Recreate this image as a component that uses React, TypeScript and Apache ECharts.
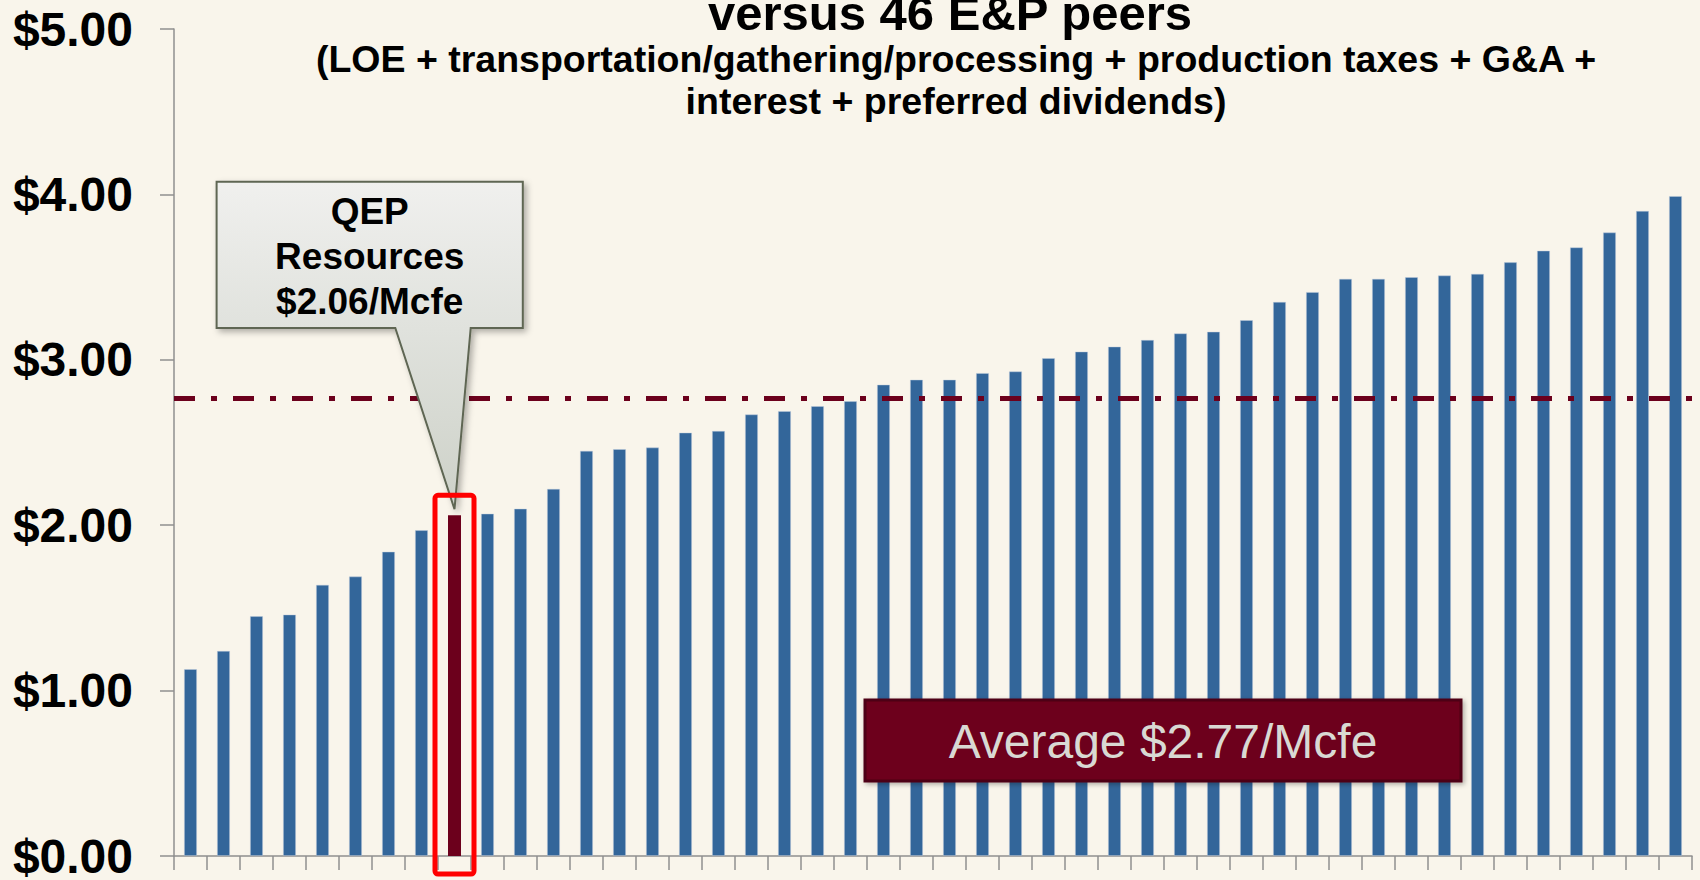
import React, { useEffect, useRef } from "react";
import * as echarts from "echarts";

const TITLE = "versus 46 E&P peers";
const SUBTITLE_LINES = [
  "(LOE + transportation/gathering/processing + production taxes + G&A +",
  "interest + preferred dividends)",
];

const COMPANIES = [
  "Peer 1", "Peer 2", "Peer 3", "Peer 4", "Peer 5", "Peer 6", "Peer 7", "Peer 8",
  "QEP Resources",
  "Peer 9", "Peer 10", "Peer 11", "Peer 12", "Peer 13", "Peer 14", "Peer 15", "Peer 16",
  "Peer 17", "Peer 18", "Peer 19", "Peer 20", "Peer 21", "Peer 22", "Peer 23", "Peer 24",
  "Peer 25", "Peer 26", "Peer 27", "Peer 28", "Peer 29", "Peer 30", "Peer 31", "Peer 32",
  "Peer 33", "Peer 34", "Peer 35", "Peer 36", "Peer 37", "Peer 38", "Peer 39", "Peer 40",
  "Peer 41", "Peer 42", "Peer 43", "Peer 44", "Peer 45",
];

const VALUES = [
  1.13, 1.24, 1.45, 1.46, 1.64, 1.69, 1.84, 1.97, 2.06, 2.07,
  2.10, 2.22, 2.45, 2.46, 2.47, 2.56, 2.57, 2.67, 2.69, 2.72,
  2.75, 2.85, 2.88, 2.88, 2.92, 2.93, 3.01, 3.05, 3.08, 3.12,
  3.16, 3.17, 3.24, 3.35, 3.41, 3.49, 3.49, 3.50, 3.51, 3.52,
  3.59, 3.66, 3.68, 3.77, 3.90, 3.99,
];

const HIGHLIGHT = "QEP Resources";
const AVERAGE = 2.77;
const UNIT = "/Mcfe";
const Y_MIN = 0;
const Y_MAX = 5;
const Y_INTERVAL = 1;

const FONT = '"Liberation Sans", Arial, Helvetica, sans-serif';
const BG = "#F9F5EB";
const BAR = "#33669A";
const MAROON = "#6C001C";
const AXIS = "#8F8F8F";

const money = (v: number) => "$" + v.toFixed(2);

export default function App() {
  const ref = useRef<HTMLDivElement>(null);

  useEffect(() => {
    if (!ref.current) return;
    const chart = echarts.init(ref.current, undefined, { renderer: "svg" });
    const hiIdx = COMPANIES.indexOf(HIGHLIGHT);

    const option: any = {
      animation: false,
      backgroundColor: BG,
      grid: { left: 174, right: 8, top: 29, bottom: 23, containLabel: false },
      xAxis: {
        type: "category",
        data: COMPANIES,
        boundaryGap: true,
        axisLine: { show: true, lineStyle: { color: AXIS, width: 1.5 } },
        axisTick: { show: true, interval: 0, length: 14, lineStyle: { color: AXIS, width: 1.5 } },
        axisLabel: { show: false, interval: 0 },
        splitLine: { show: false },
      },
      yAxis: {
        type: "value",
        min: Y_MIN,
        max: Y_MAX,
        interval: Y_INTERVAL,
        axisLine: { show: true, lineStyle: { color: AXIS, width: 1.5 } },
        axisTick: { show: true, length: 14, lineStyle: { color: AXIS, width: 1.5 } },
        splitLine: { show: false },
        axisLabel: {
          formatter: (v: number) => money(v),
          fontSize: 48,
          fontWeight: "bold",
          fontFamily: FONT,
          color: "#000",
          margin: 41,
        },
      },
      series: [
        {
          type: "bar",
          barWidth: 13,
          silent: true,
          data: VALUES.map((v, i) => ({
            value: v,
            itemStyle:
              i === hiIdx
                ? { color: MAROON }
                : { color: BAR, borderColor: "rgba(190,205,222,0.55)", borderWidth: 0.8 },
          })),
          markLine: {
            silent: true,
            symbol: ["none", "none"],
            label: { show: false },
            emphasis: { disabled: true },
            lineStyle: {
              color: MAROON,
              width: 5,
              type: [21, 16, 6, 16],
              cap: "butt",
            },
            data: [{ yAxis: AVERAGE }],
          },
        },
      ],
    };
    chart.setOption(option);

    const top = chart.convertToPixel({ gridIndex: 0 }, [hiIdx, VALUES[hiIdx]]) as number[];
    const base = chart.convertToPixel({ gridIndex: 0 }, [hiIdx, 0]) as number[];

    const titleFont = `bold 49px ${FONT}`;
    const subFont = `bold 37.5px ${FONT}`;
    const calloutFont = `bold 37px ${FONT}`;
    const avgFont = `48px ${FONT}`;

    const txt = (text: string, x: number, y: number, font: string, fill = "#000") => ({
      type: "text",
      z: 100,
      silent: true,
      style: {
        text,
        x,
        y,
        font,
        fill,
        align: "center",
        verticalAlign: "middle",
        textAlign: "center",
        textVerticalAlign: "middle",
      },
    });

    const boxL = 216.6, boxR = 522.8, boxT = 181.7, boxB = 328;
    const cx = (boxL + boxR) / 2;
    const calloutLines = [...HIGHLIGHT.split(" "), money(VALUES[hiIdx]) + UNIT];

    chart.setOption({
      graphic: [
        txt(TITLE, 950, 13, titleFont),
        txt(SUBTITLE_LINES[0], 956, 58.5, subFont),
        txt(SUBTITLE_LINES[1], 956, 101, subFont),
        {
          type: "polygon",
          z: 100,
          silent: true,
          shape: {
            points: [
              [boxL, boxT],
              [boxR, boxT],
              [boxR, boxB],
              [470.7, boxB],
              [top[0], top[1] - 6],
              [395.3, boxB],
              [boxL, boxB],
            ],
          },
          style: {
            fill: {
              type: "linear",
              x: 0, y: 0, x2: 0, y2: 1,
              colorStops: [
                { offset: 0, color: "#F0F0EE" },
                { offset: 0.45, color: "#E0E2DD" },
                { offset: 1, color: "#CDD1C8" },
              ],
            },
            stroke: "#5E6653",
            lineWidth: 2,
            shadowBlur: 6,
            shadowOffsetX: 3,
            shadowOffsetY: 3,
            shadowColor: "rgba(0,0,0,0.3)",
          },
        },
        ...calloutLines.map((t, i) => txt(t, cx, 211.5 + i * 45, calloutFont)),
        {
          type: "rect",
          z: 101,
          silent: true,
          shape: {
            x: top[0] - 19.5,
            y: top[1] - 20,
            width: 39,
            height: base[1] + 18 - (top[1] - 20),
            r: 3,
          },
          style: { fill: "none", stroke: "#FF0000", lineWidth: 5 },
        },
        {
          type: "rect",
          z: 100,
          silent: true,
          shape: { x: 865, y: 700, width: 596, height: 81 },
          style: {
            fill: "#6D001A",
            stroke: "#4E0012",
            lineWidth: 3,
            shadowBlur: 5,
            shadowOffsetX: 2,
            shadowOffsetY: 2,
            shadowColor: "rgba(0,0,0,0.3)",
          },
        },
        txt(`Average ${money(AVERAGE)}${UNIT}`, 1163, 741.5, avgFont, "#D9D9D3"),
      ],
    });

    return () => chart.dispose();
  }, []);

  return (
    <div
      ref={ref}
      style={{ position: "fixed", left: 0, top: 0, width: 1700, height: 880 }}
    />
  );
}
